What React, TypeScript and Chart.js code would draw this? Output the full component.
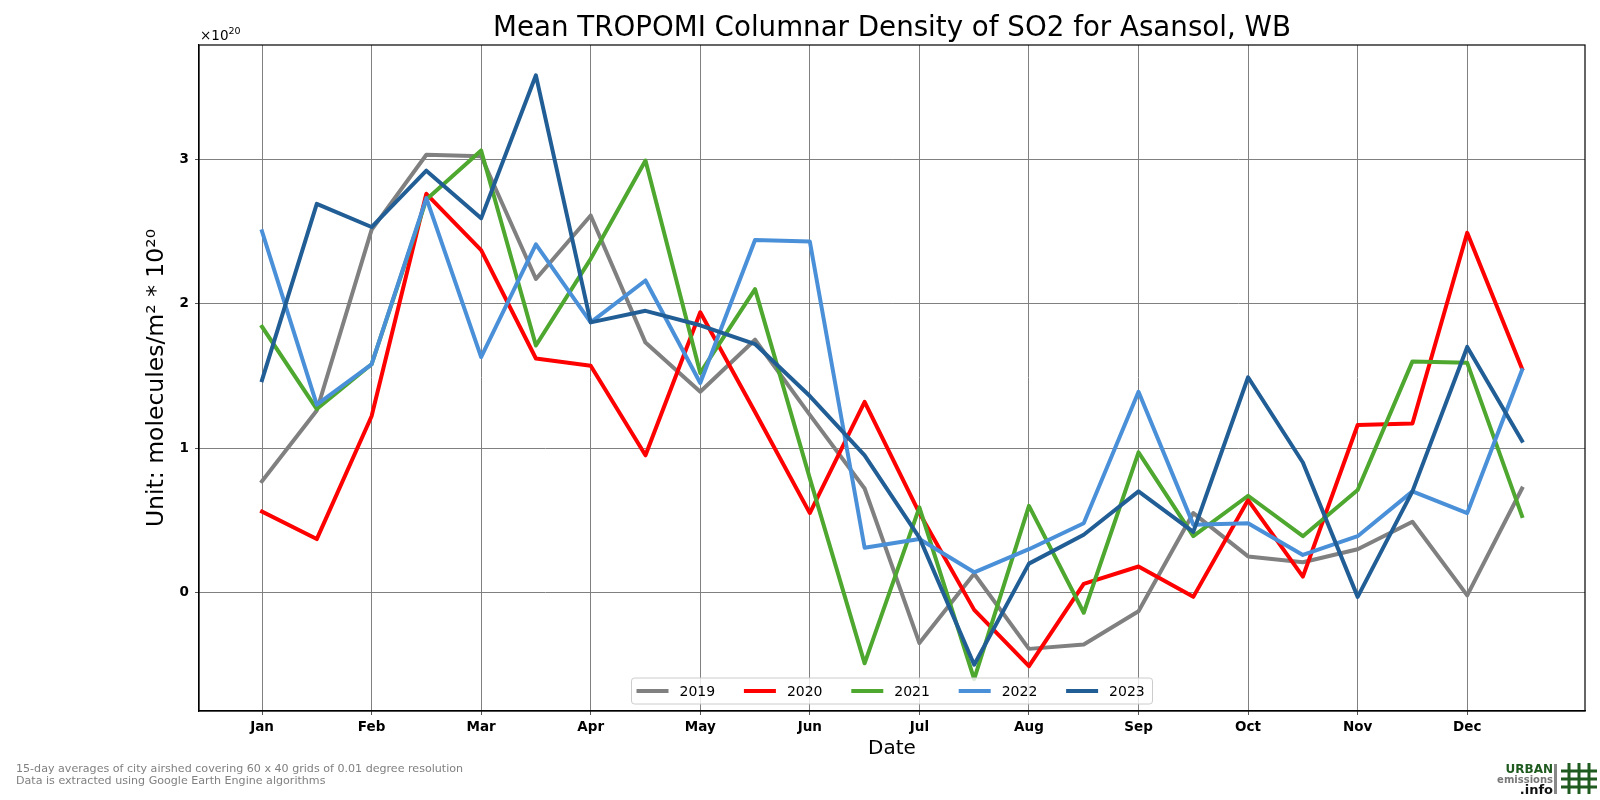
import React, { useEffect, useRef } from "react";
import { Chart, registerables } from "chart.js";

Chart.register(...registerables);

const months = ["Jan", "Feb", "Mar", "Apr", "May", "Jun", "Jul", "Aug", "Sep", "Oct", "Nov", "Dec"];
const years = ["2019", "2020", "2021", "2022", "2023"];
const colors = ["#808080", "#ff0000", "#4ea72e", "#4a90d9", "#225e96"];

// 15-day means, two per month, in units of 1e20 molecules/m2
const so2_2019 = [0.77, 1.26, 2.51, 3.03, 3.02, 2.17, 2.61, 1.73, 1.39, 1.75, 1.23, 0.72, -0.35, 0.13, -0.39, -0.36, -0.13, 0.55, 0.25, 0.21, 0.3, 0.49, -0.02, 0.72];
const so2_2020 = [0.56, 0.37, 1.22, 2.76, 2.37, 1.62, 1.57, 0.95, 1.94, 1.25, 0.55, 1.32, 0.55, -0.12, -0.51, 0.06, 0.18, -0.03, 0.64, 0.11, 1.16, 1.17, 2.49, 1.55];
const so2_2021 = [1.84, 1.27, 1.58, 2.72, 3.06, 1.71, 2.31, 2.99, 1.52, 2.1, 0.79, -0.49, 0.59, -0.6, 0.6, -0.14, 0.97, 0.39, 0.67, 0.39, 0.71, 1.6, 1.59, 0.53];
const so2_2022 = [2.5, 1.3, 1.58, 2.73, 1.63, 2.41, 1.87, 2.16, 1.45, 2.44, 2.43, 0.31, 0.37, 0.14, 0.3, 0.48, 1.39, 0.47, 0.48, 0.26, 0.39, 0.7, 0.55, 1.54];
const so2_2023 = [1.47, 2.69, 2.53, 2.92, 2.59, 3.58, 1.87, 1.95, 1.85, 1.72, 1.36, 0.95, 0.38, -0.5, 0.2, 0.4, 0.7, 0.42, 1.49, 0.9, -0.03, 0.7, 1.7, 1.05];
const series = [so2_2019, so2_2020, so2_2021, so2_2022, so2_2023];

const xTicks = [0, 2, 4, 6, 8, 10, 12, 14, 16, 18, 20, 22];
const yTicks = [0, 1, 2, 3];

const FONT = "'DejaVu Sans', sans-serif";

const decor = {
   id: "decor",
   afterDraw(chart: any) {
      const { ctx, chartArea } = chart;
      const { left, right, top, bottom } = chartArea;
      const cx = (left + right) / 2;
      ctx.save();

      // frame
      ctx.strokeStyle = "#000";
      ctx.lineWidth = 1.2;
      ctx.strokeRect(left, top, right - left, bottom - top);

      // title
      ctx.fillStyle = "#000";
      ctx.textAlign = "center";
      ctx.textBaseline = "alphabetic";
      ctx.font = `27.7px ${FONT}`;
      ctx.fillText("Mean TROPOMI Columnar Density of SO2 for Asansol, WB", cx, 36);

      // offset text
      ctx.textAlign = "left";
      ctx.font = `13.5px ${FONT}`;
      ctx.fillText("\u00d710", left + 1, 40);
      const w = ctx.measureText("\u00d710").width;
      ctx.font = `9.5px ${FONT}`;
      ctx.fillText("20", left + 1 + w, 34);

      // legend
      const boxW = 521;
      const boxH = 26;
      const bx = cx - boxW / 2;
      const by = bottom - 7 - boxH;
      ctx.fillStyle = "rgba(255,255,255,0.8)";
      ctx.strokeStyle = "#cccccc";
      ctx.lineWidth = 1;
      ctx.beginPath();
      ctx.roundRect(bx, by, boxW, boxH, 3);
      ctx.fill();
      ctx.stroke();
      ctx.font = `14px ${FONT}`;
      ctx.textBaseline = "middle";
      chart.data.datasets.forEach((ds: any, i: number) => {
         const sx = bx + 5 + i * 107.4;
         const sy = by + boxH / 2;
         ctx.strokeStyle = ds.borderColor;
         ctx.lineWidth = 4;
         ctx.beginPath();
         ctx.moveTo(sx, sy);
         ctx.lineTo(sx + 32, sy);
         ctx.stroke();
         ctx.fillStyle = "#000";
         ctx.fillText(ds.label, sx + 43, sy + 1);
      });

      // footnote
      ctx.fillStyle = "#808080";
      ctx.font = `11.1px ${FONT}`;
      ctx.textBaseline = "alphabetic";
      ctx.fillText("15-day averages of city airshed covering 60 x 40 grids of 0.01 degree resolution", 16, 772);
      ctx.fillText("Data is extracted using Google Earth Engine algorithms", 16, 784);

      // logo
      ctx.textAlign = "right";
      ctx.fillStyle = "#1f5a1f";
      ctx.font = `bold 12px ${FONT}`;
      ctx.fillText("URBAN", 1553, 773);
      ctx.fillStyle = "#777";
      ctx.font = `bold 10px ${FONT}`;
      ctx.fillText("emissions", 1553, 783);
      ctx.fillStyle = "#111";
      ctx.font = `bold 13px ${FONT}`;
      ctx.fillText(".info", 1553, 794);
      ctx.fillStyle = "#888";
      ctx.fillRect(1554, 764, 3, 30);
      ctx.strokeStyle = "#1f5a1f";
      ctx.lineWidth = 3;
      ctx.beginPath();
      [1569, 1579, 1589].forEach((x) => {
         ctx.moveTo(x, 763);
         ctx.lineTo(x, 794);
      });
      [771, 779, 787].forEach((y) => {
         ctx.moveTo(1561, y);
         ctx.lineTo(1597, y);
      });
      ctx.stroke();

      ctx.restore();
   },
};

const App = () => {
   const chartRef = useRef<HTMLCanvasElement | null>(null);

   useEffect(() => {
      if (!chartRef.current) return;
      const chart = new Chart(chartRef.current, {
         type: "line",
         data: {
            datasets: years.map((year, i) => ({
               label: year,
               data: series[i].map((v, j) => ({ x: j, y: v })),
               borderColor: colors[i],
               backgroundColor: colors[i],
               borderWidth: 4,
               pointRadius: 0,
               borderJoinStyle: "round" as const,
               borderCapStyle: "square" as const,
               tension: 0,
               order: years.length - i,
            })),
         },
         options: {
            animation: false,
            responsive: false,
            events: [],
            layout: { padding: { top: 45, right: 15, left: 0, bottom: 0 } },
            plugins: {
               legend: { display: false },
               title: { display: false },
               tooltip: { enabled: false },
            },
            scales: {
               x: {
                  type: "linear",
                  min: -1.15,
                  max: 24.15,
                  afterBuildTicks: (s: any) => {
                     s.ticks = xTicks.map((v) => ({ value: v }));
                  },
                  afterFit: (s: any) => {
                     s.height = 89;
                  },
                  ticks: {
                     callback: (v: any) => months[Math.round(Number(v) / 2)],
                     color: "#000",
                     font: { family: FONT, size: 13.5, weight: "bold" },
                     padding: 4,
                     maxRotation: 0,
                     autoSkip: false,
                  },
                  grid: { color: "#808080", lineWidth: 1, tickLength: 4, tickColor: "#555" },
                  border: { color: "#000", width: 1.2 },
                  title: {
                     display: true,
                     text: "Date",
                     color: "#000",
                     font: { family: FONT, size: 20 },
                     padding: { top: 0, bottom: 39 },
                  },
               },
               y: {
                  type: "linear",
                  min: -0.82,
                  max: 3.79,
                  afterBuildTicks: (s: any) => {
                     s.ticks = yTicks.map((v) => ({ value: v }));
                  },
                  afterFit: (s: any) => {
                     s.width = 199;
                  },
                  ticks: {
                     callback: (v: any) => String(v),
                     color: "#000",
                     font: { family: FONT, size: 13.5, weight: "bold" },
                     padding: 6,
                  },
                  grid: { color: "#808080", lineWidth: 1, tickLength: 4, tickColor: "#555" },
                  border: { color: "#000", width: 1.2 },
                  title: {
                     display: true,
                     text: "Unit: molecules/m\u00b2 * 10\u00b2\u2070",
                     color: "#000",
                     font: { family: FONT, size: 23.5 },
                     padding: { top: 143, bottom: 0 },
                  },
               },
            },
         },
         plugins: [decor],
      });

      return () => {
         chart.destroy();
      };
   }, []);

   return (
      <div style={{ position: "absolute", left: 0, top: 0, width: 1600, height: 800, background: "#fff" }}>
         <canvas ref={chartRef} width={1600} height={800} style={{ width: 1600, height: 800 }} />
      </div>
   );
};

export default App;
